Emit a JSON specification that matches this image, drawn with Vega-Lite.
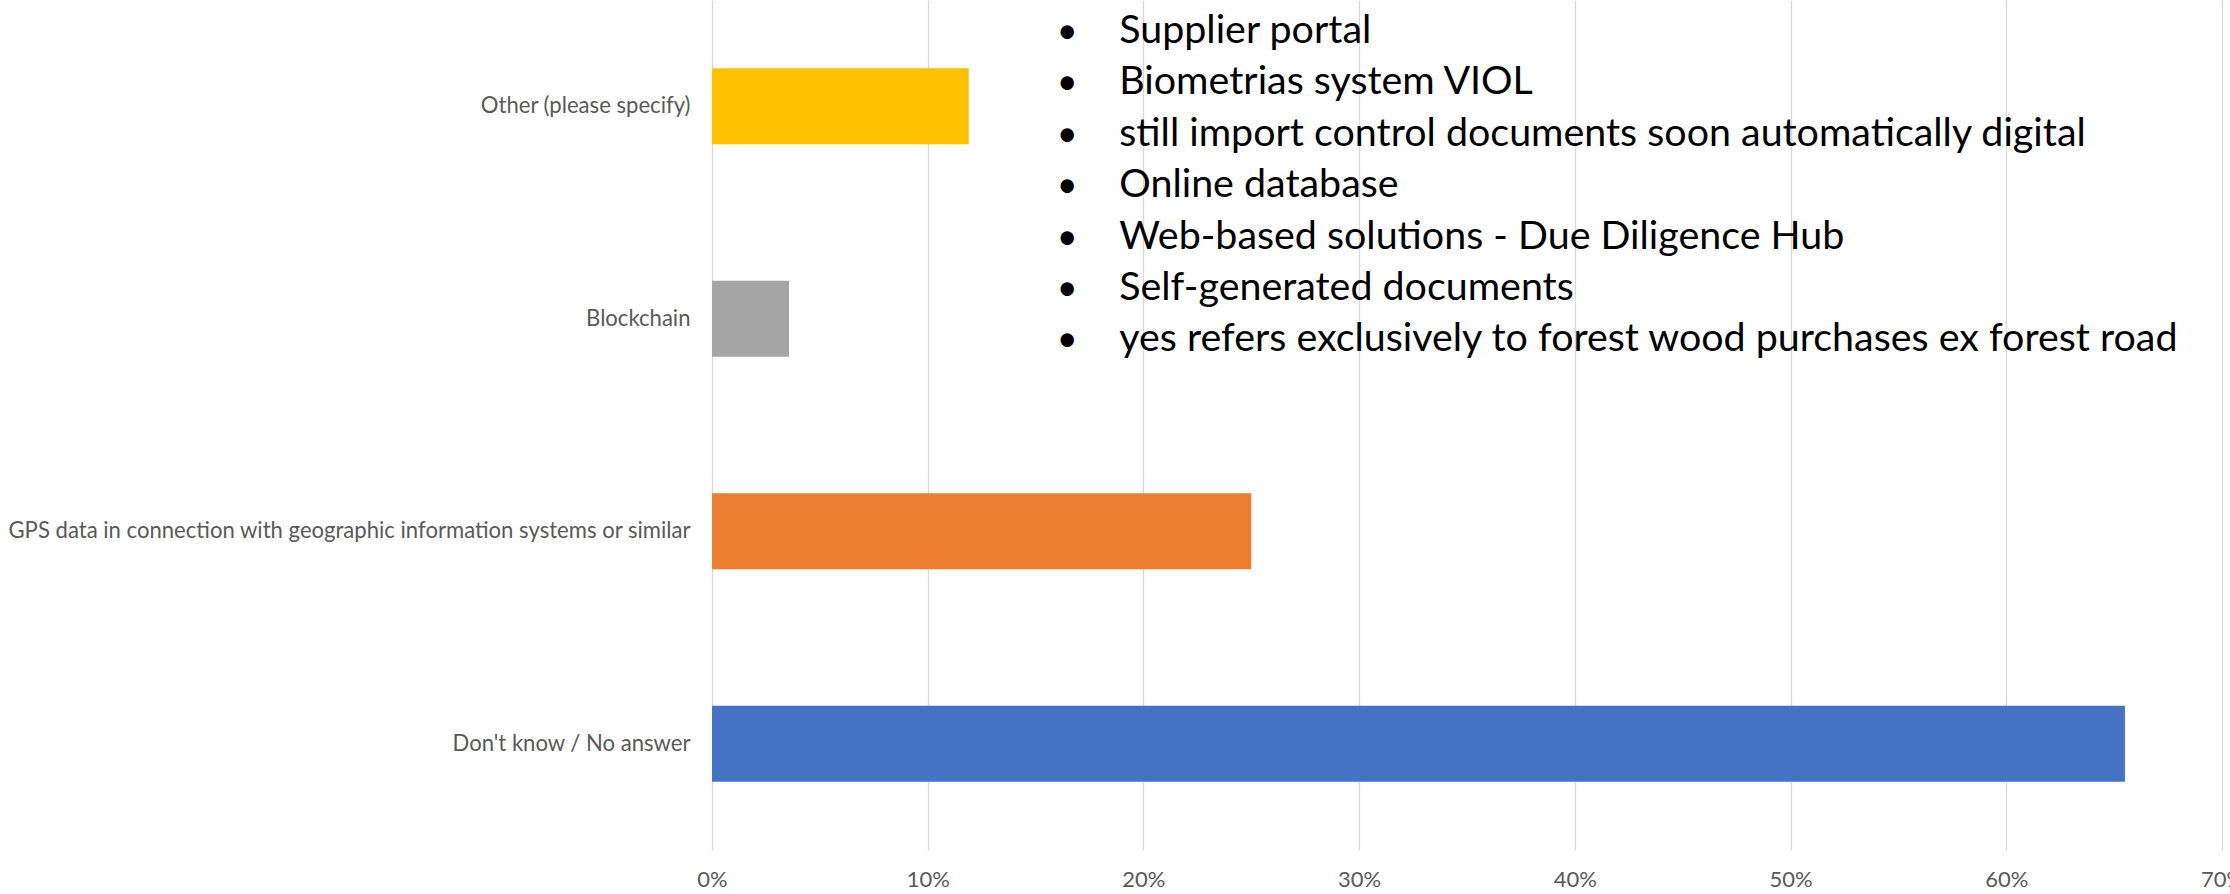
{
  "$schema": "https://vega.github.io/schema/vega-lite/v6.json",
  "autosize": "none",
  "width": 1510,
  "height": 850,
  "padding": {"left": 712, "top": 0, "right": 8, "bottom": 44},
  "background": "white",
  "config": {"view": {"stroke": null}, "font": "Lato"},
  "datasets": {
    "bars": [
      {"category": "Other (please specify)", "share": 0.119},
      {"category": "Blockchain", "share": 0.0357},
      {"category": "GPS data in connection with geographic information systems or similar", "share": 0.25},
      {"category": "Don't know / No answer", "share": 0.655}
    ],
    "notes": [
      {"line": 1, "text": "Supplier portal"},
      {"line": 2, "text": "Biometrias system VIOL"},
      {"line": 3, "text": "still import control documents soon automatically digital"},
      {"line": 4, "text": "Online database"},
      {"line": 5, "text": "Web-based solutions - Due Diligence Hub"},
      {"line": 6, "text": "Self-generated documents"},
      {"line": 7, "text": "yes refers exclusively to forest wood purchases ex forest road"}
    ]
  },
  "layer": [
    {
      "data": {"name": "bars"},
      "mark": {"type": "bar"},
      "encoding": {
        "y": {
          "field": "category", "type": "nominal",
          "sort": ["Other (please specify)", "Blockchain", "GPS data in connection with geographic information systems or similar", "Don't know / No answer"],
          "scale": {"paddingInner": 0.642, "paddingOuter": 0.321},
          "axis": {"title": null, "ticks": false, "domain": false, "labelPadding": 22, "labelFontSize": 22.1, "labelColor": "#595959", "labelLimit": 800, "labelFont": "Lato"}
        },
        "x": {
          "field": "share", "type": "quantitative",
          "scale": {"domain": [0, 0.7], "nice": false},
          "axis": {"title": null, "format": ".0%", "values": [0, 0.1, 0.2, 0.3, 0.4, 0.5, 0.6, 0.7], "ticks": false, "domain": false, "grid": true, "gridColor": "#D9D9D9", "gridWidth": 1.3, "labelPadding": 19, "labelFontSize": 22, "labelColor": "#595959", "labelFont": "Lato", "labelFlush": false}
        },
        "color": {
          "field": "category", "type": "nominal", "legend": null,
          "scale": {
            "domain": ["Other (please specify)", "Blockchain", "GPS data in connection with geographic information systems or similar", "Don't know / No answer"],
            "range": ["#FFC000", "#A5A5A5", "#ED7D31", "#4472C4"]
          }
        }
      }
    },
    {
      "data": {"name": "notes"},
      "mark": {"type": "text", "align": "center", "baseline": "alphabetic", "fontSize": 36, "font": "Lato", "color": "#000000"},
      "encoding": {
        "x": {"datum": 0.1646, "type": "quantitative"},
        "y": {"field": "line", "type": "quantitative", "scale": {"domain": [0.163, 16.7], "reverse": true, "nice": false, "zero": false}, "axis": null},
        "text": {"value": "•"}
      }
    },
    {
      "data": {"name": "notes"},
      "mark": {"type": "text", "align": "left", "baseline": "alphabetic", "fontSize": 39.4, "font": "Lato", "color": "#000000"},
      "encoding": {
        "x": {"datum": 0.1888, "type": "quantitative"},
        "y": {"field": "line", "type": "quantitative", "scale": {"domain": [0.163, 16.7], "reverse": true, "nice": false, "zero": false}, "axis": null},
        "text": {"field": "text"}
      }
    }
  ],
  "resolve": {"scale": {"y": "independent", "color": "independent"}, "axis": {"y": "independent"}}
}
